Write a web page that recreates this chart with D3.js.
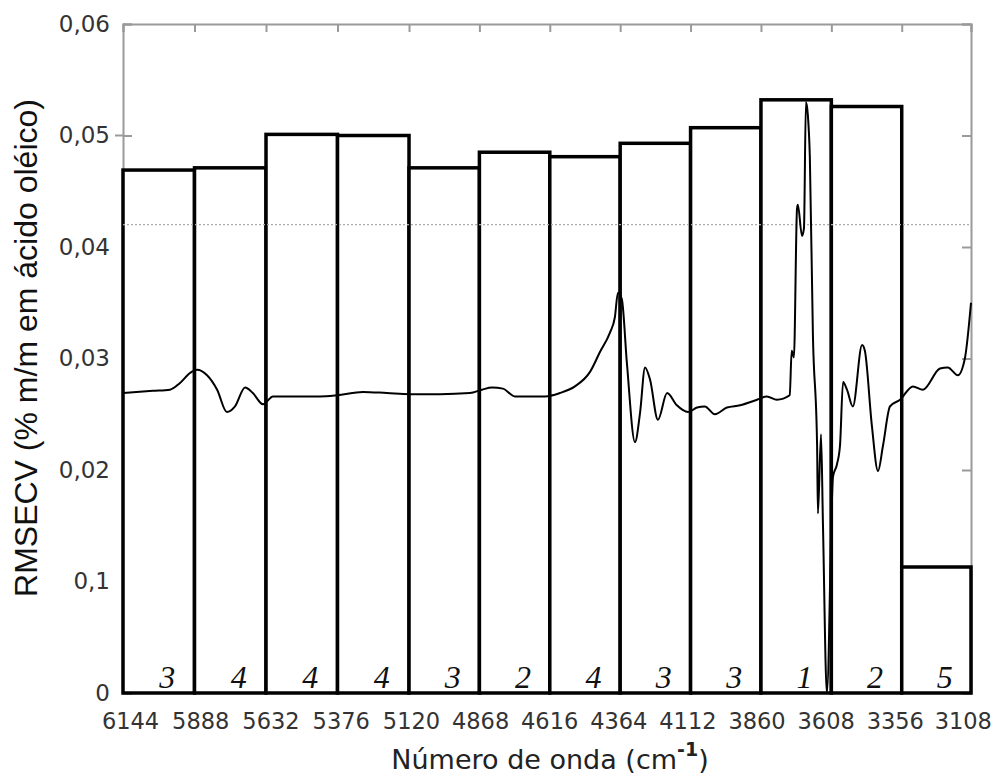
<!DOCTYPE html>
<html>
<head>
<meta charset="utf-8">
<script src="https://cdn.jsdelivr.net/npm/d3@7"></script>
<style>
  body { margin: 0; background: #fff; }
  svg { display: block; }
</style>
</head>
<body>
<svg id="chart" width="999" height="774"></svg>
<script>
// wavenumber ticks (interval limits) and y ticks
const xTicks = [6144, 5888, 5632, 5376, 5120, 4868, 4616, 4364, 4112, 3860, 3608, 3356, 3108];
const yTicks = [0, 0.01, 0.02, 0.03, 0.04, 0.05, 0.06];
const yTickLabels = ["0", "0,1", "0,02", "0,03", "0,04", "0,05", "0,06"];

// RMSECV per interval and number of latent variables
const rmsecv = [0.0469, 0.0471, 0.0501, 0.0500, 0.0471, 0.0485, 0.0481, 0.0493, 0.0507, 0.0532, 0.0526, 0.0113];
const latentVars = [3, 4, 4, 4, 3, 2, 4, 3, 3, 1, 2, 5];
const fullModel = 0.0420;

// spectrum (scaled to the RMSECV axis)
const specWn = [6144, 6037, 5976, 5940, 5904, 5879, 5843, 5807, 5772, 5743, 5707, 5679, 5643, 5607, 5557,
  5439, 5378, 5285, 5199, 5117, 5009, 4902, 4859, 4823, 4784, 4741, 4687, 4633, 4580, 4526, 4472, 4436,
  4401, 4383, 4372, 4358, 4340, 4311, 4293, 4275, 4257, 4229, 4196, 4161, 4121, 4089, 4061, 4025, 3982,
  3935, 3874, 3839, 3803, 3757, 3750, 3742, 3731, 3728, 3713, 3706, 3699, 3692, 3685, 3674, 3659, 3656,
  3645, 3638, 3624, 3602, 3588, 3577, 3566, 3552, 3531, 3498, 3488, 3463, 3441, 3423, 3398, 3362, 3316,
  3280, 3219, 3191, 3155, 3130, 3108];
const specVal = [0.0269, 0.0271, 0.0272, 0.0278, 0.0287, 0.0290, 0.0285, 0.0272, 0.0252, 0.0257, 0.0274,
  0.0269, 0.0259, 0.0266, 0.0266, 0.0266, 0.0267, 0.0270, 0.0269, 0.0268, 0.0268, 0.0269, 0.0272, 0.0274,
  0.0273, 0.0266, 0.0266, 0.0266, 0.0269, 0.0275, 0.0288, 0.0306, 0.0323, 0.0337, 0.0359, 0.0353, 0.0296,
  0.0225, 0.0251, 0.0292, 0.0281, 0.0245, 0.0269, 0.0258, 0.0252, 0.0256, 0.0257, 0.0250, 0.0256, 0.0258,
  0.0263, 0.0266, 0.0263, 0.0267, 0.0307, 0.0301, 0.0434, 0.0438, 0.0410, 0.0417, 0.0530, 0.0518, 0.0481,
  0.0321, 0.0222, 0.0161, 0.0232, 0.0151, 0.0000, 0.0194, 0.0205, 0.0222, 0.0279, 0.0272, 0.0257, 0.0312,
  0.0307, 0.0240, 0.0199, 0.0222, 0.0257, 0.0263, 0.0275, 0.0272, 0.0291, 0.0292, 0.0285, 0.0300, 0.0350];

var margin = { top: 24, right: 28, bottom: 81, left: 123 },
  width = 999 - margin.left - margin.right,
  height = 774 - margin.top - margin.bottom;

var svg = d3.select("#chart")
  .append("g")
  .attr("transform", "translate(" + margin.left + "," + margin.top + ")");

var x = d3.scaleLinear().domain([6144, 3108]).range([0, width]);
var y = d3.scaleLinear().domain([0, 0.06]).range([height, 0]);

var frame = "#9a9a9a";

// frame axes, ticks pointing inward
var yAxis = svg.append("g")
  .call(d3.axisLeft(y).tickValues(yTicks).tickSize(-9).tickPadding(13)
    .tickFormat(function (d, i) { return yTickLabels[i]; }));
yAxis.select(".domain").attr("stroke", frame).attr("stroke-width", 2);
yAxis.selectAll(".tick line").attr("stroke", frame).attr("stroke-width", 2);
yAxis.selectAll(".tick text")
  .attr("font-family", "DejaVu Sans, Verdana, sans-serif")
  .attr("font-size", 23).attr("fill", "#333");
// the 0,05 tick also crosses the axis outward
svg.append("line")
  .attr("x1", -8).attr("x2", 0)
  .attr("y1", y(0.05)).attr("y2", y(0.05))
  .attr("stroke", frame).attr("stroke-width", 2);

var rAxis = svg.append("g")
  .attr("transform", "translate(" + width + ",0)")
  .call(d3.axisRight(y).tickValues(yTicks).tickSize(-9).tickFormat(""));
rAxis.select(".domain").attr("stroke", frame).attr("stroke-width", 2);
rAxis.selectAll(".tick line").attr("stroke", frame).attr("stroke-width", 2);

var tAxis = svg.append("g")
  .call(d3.axisTop(x).tickValues(xTicks).tickSize(-8).tickFormat(""));
tAxis.select(".domain").attr("stroke", frame).attr("stroke-width", 2);
tAxis.selectAll(".tick line").attr("stroke", frame).attr("stroke-width", 2);

// labels in the source sit on a slightly tighter pitch than the ticks
var xAxis = svg.append("g")
  .attr("transform", "translate(0," + height + ")")
  .call(d3.axisBottom(x).tickValues(xTicks).tickSize(0).tickPadding(20)
    .tickFormat(function (d) { return d; }));
xAxis.select(".domain").remove();
xAxis.selectAll(".tick text")
  .attr("dx", function (d, i) { return 7 - 1.27 * i; })
  .attr("font-family", "DejaVu Sans, Verdana, sans-serif")
  .attr("font-size", 22.5).attr("fill", "#333");

// bars for each interval
var intervals = rmsecv.map(function (v, i) {
  return { from: xTicks[i], to: xTicks[i + 1], value: v, lv: latentVars[i] };
});

svg.selectAll(".bar")
  .data(intervals)
  .enter()
  .append("rect")
  .attr("class", "bar")
  .attr("x", function (d) { return x(d.from); })
  .attr("width", function (d) { return x(d.to) - x(d.from); })
  .attr("y", function (d) { return y(d.value); })
  .attr("height", function (d) { return height - y(d.value); })
  .attr("fill", "#fff")
  .attr("stroke", "#000")
  .attr("stroke-width", 3.5);

svg.selectAll(".lv")
  .data(intervals)
  .enter()
  .append("text")
  .attr("class", "lv")
  .attr("x", function (d) { return x(d.from) + 0.62 * (x(d.to) - x(d.from)); })
  .attr("y", height - 5)
  .attr("text-anchor", "middle")
  .attr("font-family", "Liberation Serif, Times New Roman, serif")
  .attr("font-style", "italic")
  .attr("font-size", 32)
  .attr("fill", "#111")
  .text(function (d) { return d.lv; });

// RMSECV of the full-range model
svg.append("line")
  .attr("x1", 0).attr("x2", width)
  .attr("y1", y(fullModel)).attr("y2", y(fullModel))
  .attr("stroke", "#aaa")
  .attr("stroke-width", 1.2)
  .attr("stroke-dasharray", "2,2");

// spectrum
var spectrum = specWn.map(function (w, i) { return { w: w, v: specVal[i] }; });
var valueline = d3.line()
  .x(function (d) { return x(d.w); })
  .y(function (d) { return y(d.v); })
  .curve(d3.curveMonotoneX);

svg.append("path")
  .datum(spectrum)
  .attr("d", valueline)
  .attr("fill", "none")
  .attr("stroke", "#000")
  .attr("stroke-width", 2);

// axis titles
var xt = svg.append("text")
  .attr("x", width / 2 + 3)
  .attr("y", height + 76)
  .attr("text-anchor", "middle")
  .attr("font-family", "DejaVu Sans, Verdana, sans-serif")
  .attr("font-size", 27)
  .attr("fill", "#222");
xt.append("tspan").text("Número de onda (cm");
xt.append("tspan").attr("dy", -13).attr("font-size", 19).attr("font-weight", "bold").text("-1");
xt.append("tspan").attr("dy", 13).text(")");

svg.append("text")
  .attr("transform", "translate(" + (37 - margin.left) + "," + (348 - margin.top) + ") rotate(-90)")
  .attr("text-anchor", "middle")
  .attr("font-family", "Liberation Sans, Arial, sans-serif")
  .attr("font-size", 32)
  .attr("fill", "#111")
  .text("RMSECV (% m/m em ácido oléico)");
</script>
</body>
</html>
